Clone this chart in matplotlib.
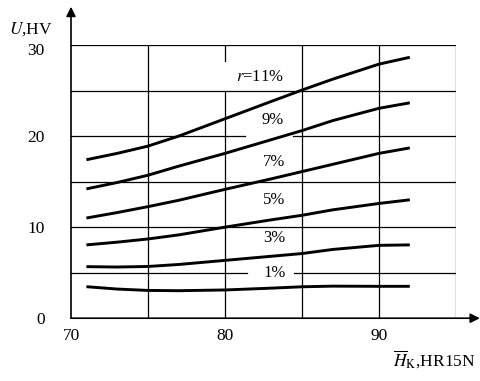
import matplotlib
matplotlib.use("Agg")
import matplotlib.pyplot as plt
from matplotlib.transforms import ScaledTranslation

plt.rcParams['font.family'] = ['Liberation Serif', 'DejaVu Serif']
plt.rcParams['mathtext.fontset'] = 'stix'

# hardness HR15N readings along the curves
hk = [71, 73, 75, 77, 80, 83, 85, 87, 90, 92]

# U (HV) for each reduction r
u_r11 = [17.4, 18.1, 18.9, 20.0, 21.9, 23.8, 25.05, 26.25, 27.9, 28.65]
u_r9 = [14.2, 14.9, 15.7, 16.7, 18.1, 19.6, 20.6, 21.7, 23.05, 23.65]
u_r7 = [11.0, 11.6, 12.25, 12.95, 14.15, 15.3, 16.1, 16.9, 18.1, 18.7]
u_r5 = [8.05, 8.35, 8.7, 9.15, 10.0, 10.8, 11.3, 11.9, 12.6, 13.0]
u_r3 = [5.66, 5.62, 5.68, 5.9, 6.35, 6.8, 7.1, 7.55, 8.0, 8.05]
u_r1 = [3.46, 3.2, 3.05, 3.02, 3.1, 3.3, 3.45, 3.52, 3.5, 3.5]

curve_labels = [r'$r$=11%', '9%', '7%', '5%', '3%', '1%']
label_x = [82.25, 83.1, 83.2, 83.2, 83.2, 83.2]
label_y = [26.5, 21.8, 17.1, 13.0, 8.8, 4.95]

x_ticks = [70, 80, 90]
y_ticks = [0, 10, 20, 30]

fig = plt.figure(figsize=(4.8, 3.81), dpi=100)
ax = fig.add_axes([71 / 480, 1 - 318.2 / 381, 385 / 480, 273.2 / 381])
ax.set_xlim(70, 95)
ax.set_ylim(0, 30)

# grid, drawn by hand because some lines are broken around labels
gw = 0.9
for yv in [10, 15, 25, 30]:
    ax.plot([70, 95], [yv, yv], color='black', lw=gw, zorder=1)
ax.plot([70, 81.3], [20, 20], color='black', lw=gw, zorder=1)
ax.plot([84.4, 95], [20, 20], color='black', lw=gw, zorder=1)
ax.plot([70, 81.4], [5, 5], color='black', lw=gw, zorder=1)
ax.plot([84.5, 95], [5, 5], color='black', lw=gw, zorder=1)
for xv in [75, 85, 90, 95]:
    ax.plot([xv, xv], [0, 30], color='black', lw=gw, zorder=1)
ax.plot([80, 80], [0, 25], color='black', lw=gw, zorder=1)
ax.plot([80, 80], [28.2, 30], color='black', lw=gw, zorder=1)

for u in [u_r11, u_r9, u_r7, u_r5, u_r3, u_r1]:
    ax.plot(hk, u, color='black', lw=2.1, solid_capstyle='butt',
            solid_joinstyle='round', zorder=3)

for lab, lx, ly in zip(curve_labels, label_x, label_y):
    ax.text(lx, ly, lab, ha='center', va='center', fontsize=12, zorder=4)

for s in ax.spines.values():
    s.set_visible(False)

# axes with arrows
ax.annotate('', xy=(0, 1.14), xytext=(0, 0), xycoords='axes fraction',
            arrowprops=dict(arrowstyle='-|>', color='black', lw=1.2,
                            mutation_scale=14, shrinkA=0, shrinkB=0),
            annotation_clip=False)
ax.annotate('', xy=(1.062, 0), xytext=(0, 0), xycoords='axes fraction',
            arrowprops=dict(arrowstyle='-|>', color='black', lw=1.2,
                            mutation_scale=14, shrinkA=0, shrinkB=0),
            annotation_clip=False)

ax.set_xticks(x_ticks)
ax.set_yticks(y_ticks)
ax.tick_params(length=0, labelsize=12.5)
ax.tick_params(axis='y', pad=19)
ax.tick_params(axis='x', pad=7)

# top y label sits a little lower in the original
top_lab = ax.get_yticklabels()[-1]
top_lab.set_transform(top_lab.get_transform() +
                      ScaledTranslation(0, -4 / 100, fig.dpi_scale_trans))

fig.text(53 / 480, 1 - 34 / 381, r'$U$,HV', ha='right', va='baseline', fontsize=12.5)
fig.text(476 / 480, 1 - 360 / 381, r'$\overline{H}_{\mathrm{K}}$,HR15N',
         ha='right', va='center', fontsize=12.5)

fig.savefig('out.png', dpi=100)
